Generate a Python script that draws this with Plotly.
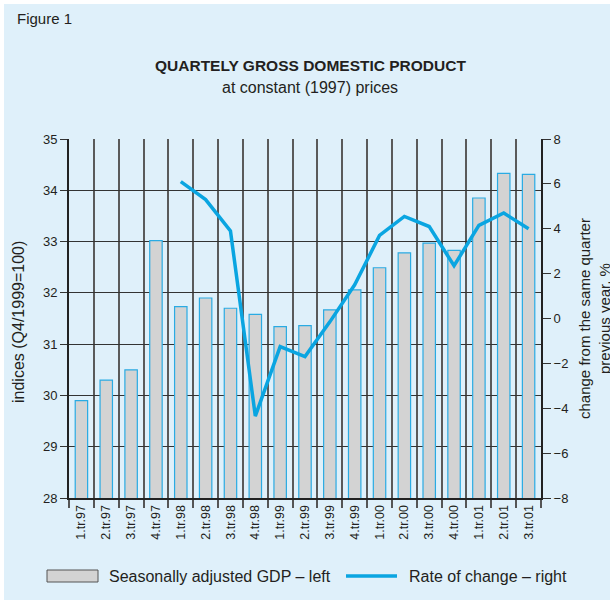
import plotly.graph_objects as go

# Data
quarters = ["1.tr.97", "2.tr.97", "3.tr.97", "4.tr.97",
            "1.tr.98", "2.tr.98", "3.tr.98", "4.tr.98",
            "1.tr.99", "2.tr.99", "3.tr.99", "4.tr.99",
            "1.tr.00", "2.tr.00", "3.tr.00", "4.tr.00",
            "1.tr.01", "2.tr.01", "3.tr.01"]
gdp_index = [29.90, 30.30, 30.50, 33.02,
             31.73, 31.90, 31.70, 31.58,
             31.34, 31.36, 31.67, 32.06,
             32.49, 32.78, 32.97, 32.83,
             33.85, 34.33, 34.31]
rate_change = [None, None, None, None,
               6.1, 5.3, 3.9, -4.35,
               -1.25, -1.7, -0.15, 1.5,
               3.7, 4.55, 4.1, 2.35,
               4.15, 4.7, 4.0]
left_ticks = [28, 29, 30, 31, 32, 33, 34, 35]
right_ticks = [-8, -6, -4, -2, 0, 2, 4, 6, 8]

BG = "#dff0fa"
INK = "#231f20"
BLUE = "#0aa5e1"
FONT = "Liberation Sans, Arial, sans-serif"

W, H = 610, 600
L, R, T, B = 69, 541, 139, 498


def px(x):
    return (x - L) / (R - L)


def py(y):
    return (B - y) / (B - T)


fig = go.Figure()

fig.add_trace(go.Bar(
    x=quarters, y=gdp_index, name="Seasonally adjusted GDP – left",
    width=0.5, marker=dict(color="#d3d3d3", line=dict(color="#2aabe3", width=1.2)),
    showlegend=False
))
fig.add_trace(go.Scatter(
    x=quarters, y=rate_change, name="Rate of change – right", yaxis="y2",
    mode="lines", line=dict(color=BLUE, width=3.5), showlegend=False
))

fig.update_layout(
    width=W, height=H,
    paper_bgcolor="white", plot_bgcolor=BG,
    font=dict(family=FONT, color=INK, size=13),
    margin=dict(l=L, r=W - R, t=T, b=H - B),
    bargap=0.5,
    xaxis=dict(
        type="category", tickson="boundaries", showgrid=True,
        gridcolor="#5a5a5a", gridwidth=1.5,
        ticks="outside", ticklen=8, tickcolor="#555555", tickwidth=1.5,
        tickangle=-90, tickfont=dict(size=12.5, family="Liberation Sans Narrow, Arial Narrow, " + FONT),
        showline=True, linecolor="#222222", linewidth=2, fixedrange=True
    ),
    yaxis=dict(
        range=[28, 35], tickvals=left_ticks, showgrid=True,
        gridcolor="#333333", gridwidth=1.3, zeroline=False,
        ticks="outside", ticklen=7, tickcolor="#333333",
        showline=True, linecolor="#222222", linewidth=2,
        tickfont=dict(size=13)
    ),
    yaxis2=dict(
        range=[-8, 8], tickvals=right_ticks, overlaying="y", side="right",
        showgrid=False, zeroline=False, ticks="outside", ticklen=8, tickcolor="#333333",
        showline=True, linecolor="#222222", linewidth=2,
        tickfont=dict(size=13)
    ),
    yaxis3=dict(
        range=[-8, 8], tickvals=right_ticks, overlaying="y", side="right",
        showgrid=False, zeroline=False, ticks="inside", ticklen=6, tickcolor="#333333",
        showticklabels=False, showline=False
    ),
)

# page background with thin white edge at top and left
fig.add_shape(type="rect", xref="paper", yref="paper", layer="below",
              x0=px(4), x1=px(W), y0=py(H), y1=py(4),
              fillcolor=BG, line=dict(width=0))

# legend drawn by hand
fig.add_shape(type="rect", xref="paper", yref="paper",
              x0=px(47), x1=px(98), y0=py(582), y1=py(570),
              fillcolor="#d3d3d3", line=dict(color="#555555", width=1))
fig.add_shape(type="line", xref="paper", yref="paper",
              x0=px(346), x1=px(397), y0=py(576), y1=py(576),
              line=dict(color=BLUE, width=3.5))

annotations = [
    dict(text="Figure 1", x=px(15), y=py(18), xanchor="left", font=dict(size=15)),
    dict(text="<b>QUARTELY GROSS DOMESTIC PRODUCT</b>", x=px(310), y=py(66), font=dict(size=15.5)),
    dict(text="at constant (1997) prices", x=px(310), y=py(88), font=dict(size=16)),
    dict(text="indices (Q4/1999=100)", x=px(18), y=py(322), textangle=-90, font=dict(size=16)),
    dict(text="change from the same quarter<br>previous year, %", x=px(594), y=py(319),
         textangle=-90, font=dict(size=15)),
    dict(text="Seasonally adjusted GDP – left", x=px(107), y=py(576), xanchor="left", font=dict(size=16)),
    dict(text="Rate of change – right", x=px(407), y=py(576), xanchor="left", font=dict(size=16)),
]
for a in annotations:
    a.setdefault("xanchor", "center")
    fig.add_annotation(xref="paper", yref="paper", yanchor="middle", showarrow=False, **a)

fig.write_html("out.html", config={"displayModeBar": False},
               post_script="document.body.style.margin='0';")
